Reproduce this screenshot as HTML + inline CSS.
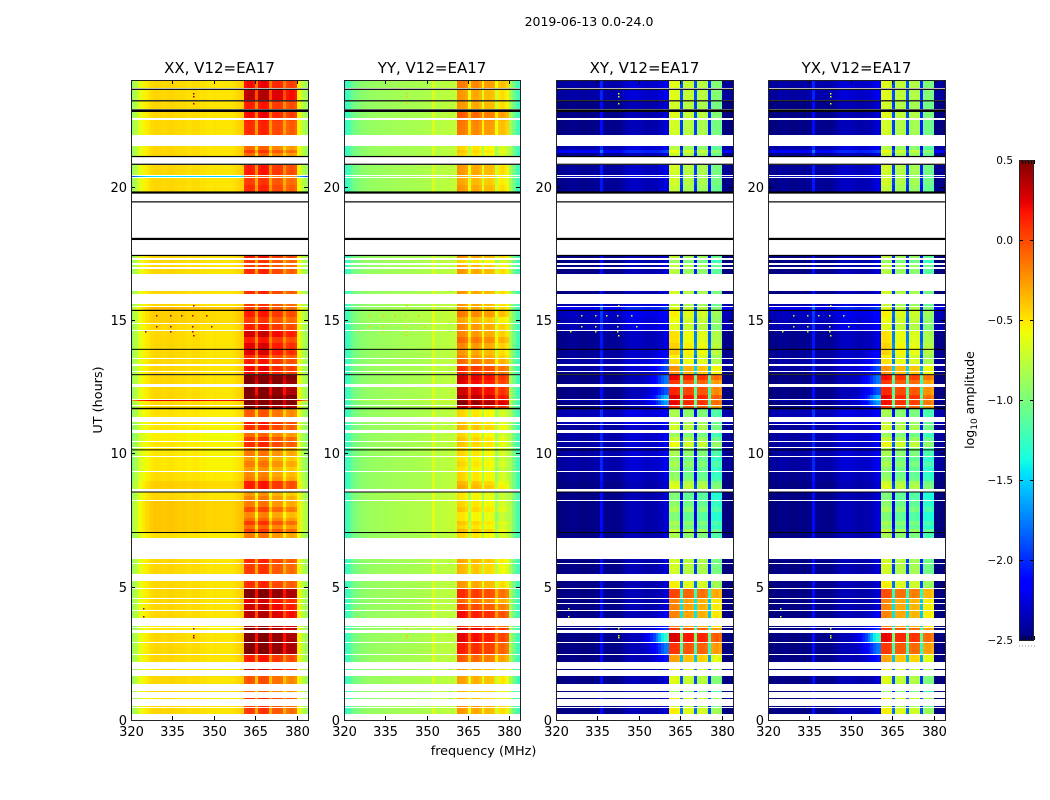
<!DOCTYPE html>
<html>
<head>
<meta charset="utf-8">
<title>Waterfall 2019-06-13</title>
<style>
html,body{margin:0;padding:0;background:#fff;}
svg{display:block;}
text{font-family:"DejaVu Sans","Liberation Sans",sans-serif;fill:#000;}
</style>
</head>
<body>
<svg id="figure" xmlns="http://www.w3.org/2000/svg" width="1050" height="800" viewBox="0 0 1050 800">
  <text x="589" y="26" font-size="12.5" text-anchor="middle">2019-06-13 0.0-24.0</text>
  <text x="483.5" y="755" font-size="12.8" text-anchor="middle">frequency (MHz)</text>
  <text x="102" y="400" font-size="12.8" text-anchor="middle" transform="rotate(-90 102 400)">UT (hours)</text>
  <text x="974" y="400" font-size="12.5" text-anchor="middle" transform="rotate(-90 974 400)">log<tspan font-size="9" dy="3">10</tspan><tspan dy="-3"> amplitude</tspan></text>
  <g id="panels"></g>
  <g id="colorbar"></g>
</svg>
<script>
// ---- categories / ticks ----
const panelTitles = ["XX, V12=EA17", "YY, V12=EA17", "XY, V12=EA17", "YX, V12=EA17"];
const xTicks = [320, 335, 350, 365, 380];
const yTicks = [0, 5, 10, 15, 20];
const colorbarTicks = [0.5, 0.0, -0.5, -1.0, -1.5, -2.0, -2.5];
const colorbarTickLabels = ["0.5", "0.0", "\u22120.5", "\u22121.0", "\u22121.5", "\u22122.0", "\u22122.5"];

// ---- time bands with data (UT hours) ----
const bandStart = [.22,.49,.79,1.05,1.36,1.87,2.17,2.49,2.93,3.37,3.49,3.82,4.12,4.39,4.57,4.95,5.46,5.88,6.83,7.05,7.17,7.3,7.45,7.59,7.8,8.0,8.25,8.4,8.66,8.8,8.95,9.1,9.33,9.5,9.7,9.89,10.23,10.46,10.62,10.87,11.09,11.37,11.71,11.82,11.97,12.03,12.2,12.6,12.75,12.97,13.08,13.34,13.57,13.7,13.92,14.15,14.35,14.62,14.9,15.1,15.37,15.54,15.99,16.73,16.99,17.12,17.32,19.79,20.05,20.35,20.44,21.14,21.26,21.38,21.93,22.47,22.56,22.9,23.24,23.69];
const bandEnd = [.46,.53,.82,1.08,1.65,1.91,2.44,2.89,3.27,3.45,3.52,4.09,4.35,4.54,4.91,5.21,5.85,6.03,7.01,7.17,7.3,7.45,7.57,7.8,8.0,8.22,8.4,8.55,8.8,8.95,9.1,9.3,9.5,9.7,9.86,10.19,10.42,10.62,10.78,11.06,11.17,11.66,11.79,11.97,12.0,12.19,12.5,12.75,12.94,13.05,13.27,13.54,13.7,13.9,14.15,14.35,14.58,14.86,15.1,15.35,15.47,15.61,16.08,16.93,17.05,17.24,17.39,20.05,20.31,20.39,20.82,21.26,21.38,21.51,22.45,22.51,22.79,23.2,23.63,24.0];

// ---- per-channel spectra, log10 amplitude, 320..383 MHz in 1 MHz channels ----
const xxSpectrum = [-.9,-.8,-.7,-.62,-.56,-.52,-.5,-.47,-.45,-.45,-.45,-.46,-.46,-.45,-.44,-.45,-.46,-.47,-.46,-.46,-.48,-.48,-.47,-.46,-.47,-.49,-.48,-.5,-.5,-.5,-.49,-.5,-.5,-.5,-.5,-.5,-.5,-.48,-.46,-.44,-.42,-.08,-.05,-.05,-.08,-.42,-.05,-.02,-.02,-.05,-.4,-.16,-.14,-.14,-.16,-.42,-.24,-.2,-.2,-.24,-.55,-.68,-.78,-.88];
const yySpectrum = [-1.3,-1.2,-1.12,-1.05,-1,-.97,-.95,-.93,-.92,-.9,-.9,-.9,-.9,-.88,-.88,-.88,-.87,-.87,-.86,-.86,-.86,-.85,-.85,-.85,-.84,-.84,-.84,-.83,-.83,-.83,-.82,-.82,-.65,-.8,-.8,-.78,-.78,-.78,-.76,-.76,-.76,-.28,-.3,-.3,-.35,-.65,-.38,-.35,-.35,-.4,-.7,-.42,-.4,-.42,-.45,-.75,-.55,-.52,-.55,-.6,-.85,-1,-1.12,-1.25];
const xySpectrum = [-2.5,-2.5,-2.5,-2.5,-2.47,-2.47,-2.47,-2.47,-2.5,-2.5,-2.5,-2.48,-2.48,-2.48,-2.48,-2.46,-2.1,-2.46,-2.46,-2.47,-2.47,-2.47,-2.47,-2.46,-2.42,-2.38,-2.35,-2.35,-2.35,-2.35,-2.36,-2.38,-2.38,-2.4,-2.38,-2.38,-2.38,-2.36,-2.32,-2.28,-2.25,-.78,-.78,-.78,-.82,-2.05,-.9,-.88,-.88,-.92,-2.05,-.95,-.92,-.92,-.97,-2.15,-1.14,-1.1,-1.1,-1.16,-2.5,-2.5,-2.5,-2.5];
const yxSpectrum = [-2.5,-2.5,-2.5,-2.5,-2.48,-2.47,-2.47,-2.48,-2.5,-2.5,-2.5,-2.48,-2.48,-2.48,-2.48,-2.46,-2.1,-2.46,-2.46,-2.47,-2.47,-2.47,-2.47,-2.46,-2.42,-2.38,-2.36,-2.35,-2.35,-2.36,-2.36,-2.38,-2.4,-2.4,-2.38,-2.38,-2.38,-2.36,-2.32,-2.28,-2.25,-.8,-.78,-.8,-.84,-2.05,-.92,-.9,-.9,-.92,-2.05,-.97,-.94,-.94,-.97,-2.15,-1.14,-1.12,-1.12,-1.18,-2.5,-2.5,-2.5,-2.5];

// ---- per-band offsets above the spectra: high-frequency blocks ----
const xxHigh = [.1,.1,.15,-.05,.02,.35,.2,.6,.6,.55,.45,.4,.35,.3,.6,.15,.1,.15,-.1,.1,-.05,.1,-.05,-.15,.05,-.1,-.12,-.2,.2,.2,-.1,-.15,-.2,-.1,-.2,-.1,.15,.1,-.05,.15,.2,0,.55,.7,.7,.75,.6,.65,.75,.25,.25,.2,.15,.3,.3,.2,.35,.2,.1,.2,.1,.1,.15,.15,.1,.1,.2,.15,.1,0,.2,-.05,.1,-.05,.15,.2,.25,.2,.4,.25];
const yyHigh = [.05,.1,-.05,-.05,.02,.05,.25,.45,.55,.6,.4,.5,.35,.2,.4,.05,-.05,0,-.15,-.05,-.15,-.1,-.2,-.2,-.1,-.15,-.2,-.2,0,-.05,-.15,-.15,-.2,-.15,-.2,-.15,-.1,-.1,-.15,-.05,-.1,-.15,.6,.8,.7,.7,.6,.55,.6,.4,.4,.2,.1,.05,.1,.2,.1,.1,0,.15,.05,.05,.05,.05,0,-.15,.05,.05,0,0,.05,-.15,-.1,-.15,.15,.2,.25,.05,.05,.15];
const xyHigh = [.25,.05,.25,-.1,.15,.25,.5,.85,1.05,.85,.6,.6,.6,.6,.8,.25,.1,.1,-.05,.05,-.15,-.05,-.2,-.2,-.05,-.15,-.2,-.2,.15,.1,-.1,-.15,-.15,-.05,-.15,-.05,.2,.05,-.1,.1,.05,-.05,.85,1,.95,1.05,.9,.85,1,.55,.55,.3,.25,.35,.35,.3,.3,.15,.2,.25,.15,.05,.1,0,.05,-.1,.05,.05,.1,0,.1,.05,.2,0,.1,.1,.15,.1,.15,.15];
const yxHigh = [.25,.05,.25,-.1,.15,.25,.5,.85,1.02,.85,.6,.6,.6,.6,.78,.25,.1,.1,-.05,.05,-.15,-.05,-.2,-.2,-.05,-.15,-.2,-.2,.15,.1,-.1,-.15,-.15,-.05,-.15,-.05,.2,.05,-.1,.1,.05,-.05,.85,.98,.95,1.02,.9,.85,.98,.55,.55,.3,.25,.35,.35,.3,.3,.15,.2,.25,.15,.05,.1,0,.05,-.1,.05,.05,.1,0,.1,.05,.2,0,.1,.1,.15,.1,.15,.15];

// ---- per-band offsets above the spectra: low-frequency channels ----
const xxLow = [0,0,-.05,0,0,-.05,0,0,0,-.05,-.05,0,0,0,0,0,0,0,-.03,.05,.05,.05,.05,.05,.05,.05,0,0,.03,.03,-.02,-.02,-.05,-.05,-.05,-.05,-.05,-.08,-.08,-.05,-.05,-.03,0,0,.7,0,0,0,0,0,0,0,0,0,0,0,0,0,.03,.03,.1,0,0,0,0,0,0,0,0,-1,0,0,0,0,0,0,0,0,0,0];
const yyLow = [0,0,0,0,0,0,0,0,0,0,0,0,0,0,0,0,0,0,0,.03,.03,.03,.03,.03,.03,.03,.03,.03,0,0,0,0,0,0,0,0,0,0,0,0,0,0,0,0,.1,0,0,0,0,0,0,0,0,0,0,0,0,0,.03,.03,0,0,0,0,0,0,0,0,0,0,0,0,0,0,0,0,0,0,0,0];
const crossLow = [0,0,0,0,0,0,0,0,0,0,0,0,0,0,0,0,0,0,0,0,0,0,0,0,0,0,0,0,0,0,.03,.03,.08,.08,.08,.08,.08,.08,.08,.05,.15,.12,0,0,.15,0,0,0,0,0,.08,.08,.05,.05,.03,.03,.03,.12,.12,.15,.35,.1,0,0,0,0,0,.03,.03,.15,.05,.02,.35,.1,0,0,0,0,.08,.08];
const crossShoulder = [0,0,0,0,0,0,.2,.5,1,.3,.2,.1,0,0,0,0,0,0,0,0,0,0,0,0,0,0,0,0,0,0,0,0,0,0,0,0,0,0,0,0,0,0,.3,.6,.6,.7,.4,.5,.5,.2,.3,.2,.1,.1,0,0,0,0,0,0,0,0,0,0,0,0,0,0,0,0,0,0,0,0,0,0,0,0,0,0];
const noShoulder = [];
const shoulderWeight = [0,0,0,0,0,0,0,0,0,0,0,0,0,0,0,0,0,0,0,0,0,0,0,0,0,0,0,0,0,0,.05,.1,.15,.25,.35,.45,.6,.75,.9,1,1,0,0,0,0,0,0,0,0,0,0,0,0,0,0,0,0,0,0,0,0,0,0,0];

// ---- isolated outlier samples ----
const dotFreq = [325,329,329,334,334,334,338,342,342,342,347,349,342.5,342.5,342.5,324.4,324.4,342.5,342.5,342.5,342.5,342.5];
const dotUT = [14.57,14.77,15.2,14.57,14.77,15.2,15.2,14.57,14.77,15.2,15.2,14.77,3.2,3.1,3.45,4.2,3.9,23.5,23.4,23.15,15.55,14.42];
const dotValues = [0.45, -0.4, -0.7, -0.7];

// ---- black rows crossing every panel ----
const blackRowUT = [7.03,8.55,10.13,11.68,12.95,13.9,15.36,17.42,18.04,19.43,19.78,20.84,21.13,22.85,23.22,23.65];
const blackRowThickness = [1,1,1,1.5,1,1,1.2,1.2,2.2,1.2,2.2,1.2,1.2,2.6,1.2,1.2];

// ---- layout ----
const axisLeft = [131, 344, 556, 768];
const axisWidth = [177, 176, 177, 177];
const axisTop = 80, axisBottom = 720;
const freqMin = 320, freqMax = 384, utMin = 0, utMax = 24;
const colorMin = -2.5, colorMax = 0.5;
const panelNames = ["xx", "yy", "xy", "yx"];
const panelSpectra = [xxSpectrum, yySpectrum, xySpectrum, yxSpectrum];
const panelHigh = [xxHigh, yyHigh, xyHigh, yxHigh];
const panelLow = [xxLow, yyLow, crossLow, crossLow];
const panelShoulder = [noShoulder, noShoulder, crossShoulder, crossShoulder];
const SVGNS = "http://www.w3.org/2000/svg";
const HIGH_START_CHANNEL = 41;

function ramp(x, pts) {
  for (let i = 1; i < pts.length; i++) {
    if (x <= pts[i][0]) {
      const a = pts[i - 1], b = pts[i];
      return a[1] + (b[1] - a[1]) * (x - a[0]) / (b[0] - a[0]);
    }
  }
  return pts[pts.length - 1][1];
}
function jet(v) {
  const t = Math.max(0, Math.min(1, (v - colorMin) / (colorMax - colorMin)));
  const r = ramp(t, [[0, 0], [.35, 0], [.66, 1], [.89, 1], [1, .5]]);
  const g = ramp(t, [[0, 0], [.125, 0], [.375, 1], [.64, 1], [.91, 0], [1, 0]]);
  const b = ramp(t, [[0, .5], [.11, 1], [.34, 1], [.65, 0], [1, 0]]);
  return "rgb(" + Math.round(r * 255) + "," + Math.round(g * 255) + "," + Math.round(b * 255) + ")";
}
function xScale(p, f) { return axisLeft[p] + (f - freqMin) / (freqMax - freqMin) * axisWidth[p]; }
function yScale(u) { return axisBottom - (u - utMin) / (utMax - utMin) * (axisBottom - axisTop); }
function colorbarY(v) { return 160 + (colorMax - v) / (colorMax - colorMin) * 480; }
function make(tag, attrs, parent) {
  const el = document.createElementNS(SVGNS, tag);
  for (const k in attrs) el.setAttribute(k, attrs[k]);
  parent.appendChild(el);
  return el;
}

const panelsRoot = document.getElementById("panels");
panelNames.forEach(function (name, p) {
  const g = make("g", {}, panelsRoot);
  
  
  const spectrum = panelSpectra[p];
  const cells = make("g", { "shape-rendering": "crispEdges" }, g);
  
  
  for (let b = 0; b < bandStart.length; b++) {
    const top = Math.round(yScale(bandEnd[b]));
    const bot = Math.max(top + 1, Math.round(yScale(bandStart[b])));
    for (let c = 0; c < spectrum.length; c++) {
      const isHigh = c >= HIGH_START_CHANNEL && c < 60;
      const shoulder = panelShoulder[p].length ? panelShoulder[p][b] * shoulderWeight[c] : 0;
      const value = spectrum[c] + (isHigh ? panelHigh[p][b] : panelLow[p][b]) + shoulder;
      const x0 = Math.round(xScale(p, freqMin + c));
      const x1 = Math.round(xScale(p, freqMin + c + 1));
      const cell = make("rect", { x: x0, y: top, width: x1 - x0, height: bot - top, fill: jet(value) }, cells);
      
      
    }
  }
  dotFreq.forEach(function (f, i) {
    const dot = make("rect", { x: Math.round(xScale(p, f)), y: Math.round(yScale(dotUT[i])), width: 1.5, height: 1.5, fill: jet(dotValues[p]) }, cells);
    
    
  });
  blackRowUT.forEach(function (u, i) {
    const row = make("rect", { x: axisLeft[p], y: yScale(u) - blackRowThickness[i] / 2, width: axisWidth[p], height: blackRowThickness[i], fill: "#000" }, g);
    
    
  });
  const L = axisLeft[p], W = axisWidth[p];
  xTicks.forEach(function (t) {
    const x = Math.round(xScale(p, t)) + 0.5;
    const t1 = make("line", { x1: x, x2: x, y1: axisBottom, y2: axisBottom - 4, stroke: "#000", "stroke-width": 1 }, g);
    
    
    const t2 = make("line", { x1: x, x2: x, y1: axisTop, y2: axisTop + 4, stroke: "#000", "stroke-width": 1 }, g);
    
    
    const lab = make("text", { x: x, y: 736, "font-size": 13, "text-anchor": "middle" }, g);
    lab.textContent = String(t);
    
    
  });
  yTicks.forEach(function (t) {
    const y = Math.round(yScale(t)) + 0.5;
    const t1 = make("line", { x1: L, x2: L + 4, y1: y, y2: y, stroke: "#000", "stroke-width": 1 }, g);
    
    
    const t2 = make("line", { x1: L + W, x2: L + W - 4, y1: y, y2: y, stroke: "#000", "stroke-width": 1 }, g);
    
    
    const lab = make("text", { x: L - 4, y: y + 4.5, "font-size": 13, "text-anchor": "end" }, g);
    lab.textContent = String(t);
    
    
  });
  const frame = make("rect", { x: L + 0.5, y: axisTop + 0.5, width: W, height: axisBottom - axisTop, fill: "none", stroke: "#222", "stroke-width": 1 }, g);
  
  
  const title = make("text", { x: L + W / 2, y: 73, "font-size": 15, "text-anchor": "middle" }, g);
  title.textContent = panelTitles[p];
  
  
});

// ---- colour bar ----
const cb = document.getElementById("colorbar");
const cbLeft = 1019, cbWidth = 15;
const cbRamp = make("g", { "shape-rendering": "crispEdges" }, cb);


for (let py = 160; py < 640; py += 2) {
  const slice = make("rect", { x: cbLeft, y: py, width: cbWidth, height: 2, fill: jet(colorMax - (py + 1 - 160) / 480 * (colorMax - colorMin)) }, cbRamp);
  
  
}
colorbarTicks.forEach(function (v, i) {
  const y = Math.round(colorbarY(v)) + 0.5;
  const a = make("line", { x1: cbLeft, x2: cbLeft + 4, y1: y, y2: y, stroke: "#000" }, cb);
  
  
  const b = make("line", { x1: cbLeft + cbWidth, x2: cbLeft + cbWidth - 4, y1: y, y2: y, stroke: "#000" }, cb);
  
  
  const lab = make("text", { x: 1013, y: y + 3.5, "font-size": 10.5, "text-anchor": "end" }, cb);
  lab.textContent = colorbarTickLabels[i];
  
  
});
for (let k = 0; k < 6; k++) {
  const x = cbLeft + 0.5 + k * 3;
  const top = make("line", { x1: x, x2: x, y1: 160, y2: 164, stroke: "#000" }, cb);
  
  
  const bottom = make("line", { x1: x, x2: x, y1: 640, y2: 636, stroke: "#000" }, cb);
  
  
  const mark = make("rect", { x: x - 0.5, y: 645.5, width: 1, height: 1, fill: "#888" }, cb);
  
  
}
const cbFrame = make("rect", { x: cbLeft + 0.5, y: 160.5, width: cbWidth - 1, height: 480, fill: "none", stroke: "#222", "stroke-width": 1 }, cb);


</script>
</body>
</html>
